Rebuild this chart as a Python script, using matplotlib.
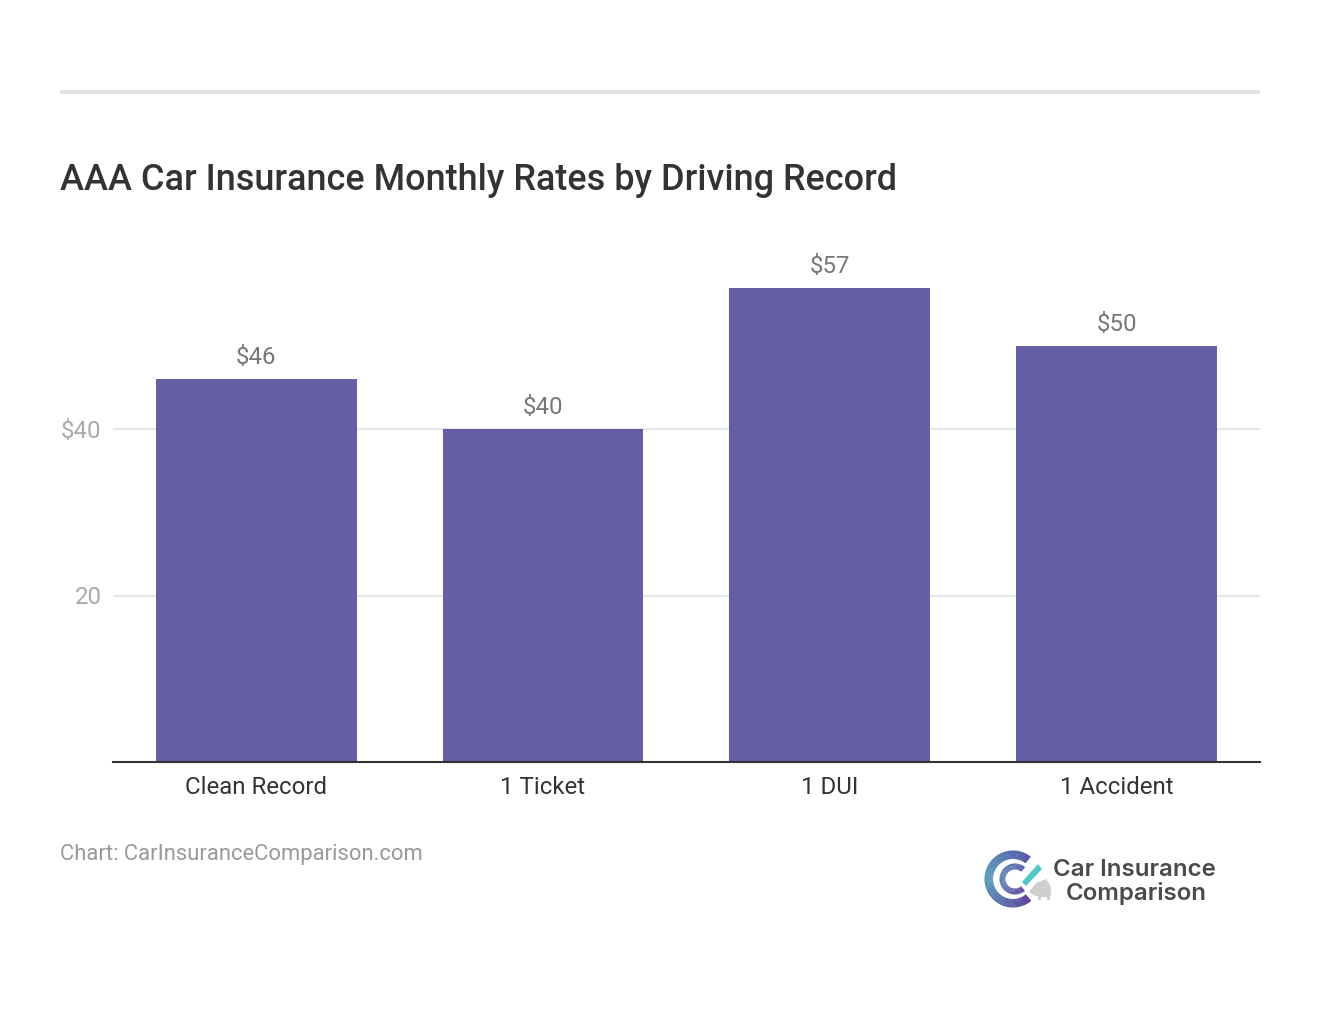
import matplotlib
matplotlib.use("Agg")
import matplotlib.pyplot as plt
from matplotlib.patches import Wedge, Rectangle, FancyBboxPatch, Polygon
from matplotlib.transforms import ScaledTranslation
import numpy as np

categories = ["Clean Record", "1 Ticket", "1 DUI", "1 Accident"]
rates = [46, 40, 57, 50]
value_labels = ["$46", "$40", "$57", "$50"]
y_ticks = [20, 40]
y_tick_labels = ["20", "$40"]
title = "AAA Car Insurance Monthly Rates by Driving Record"
source = "Chart: CarInsuranceComparison.com"

W, H = 1320, 1020
plt.rcParams['font.family'] = ['Roboto', 'DejaVu Sans']
fig = plt.figure(figsize=(W/100, H/100), dpi=100, facecolor='white')

def fx(x): return x / W
def fy(y): return 1 - y / H

# overlay in pixel coordinates for furniture
ov = fig.add_axes([0, 0, 1, 1], zorder=0)
ov.set_xlim(0, W); ov.set_ylim(H, 0); ov.axis('off')
ov.add_patch(Rectangle((60, 90.5), 1200, 4, color='#e2e2e2', lw=0))

ax = fig.add_axes([fx(112.8), fy(763), (1260-112.8)/W, 499.3/H], zorder=1)
ax.patch.set_alpha(0)
ax.set_xlim(-0.5, 3.5)
ax.set_ylim(0, 60)
ax.bar(range(4), rates, width=0.7, color='#645ea5', zorder=3)
ax.set_yticks(y_ticks)
ax.set_yticklabels(y_tick_labels, fontsize=17.3, color='#a9a9a9')
ax.set_xticks(range(4))
ax.set_xticklabels(categories, fontsize=17.3, color='#333333')
ax.tick_params(axis='y', length=0, pad=8.2)
ax.tick_params(axis='x', length=0, pad=9.5)
up = ScaledTranslation(0, 1.5/100, fig.dpi_scale_trans)
for lab in ax.get_yticklabels():
    lab.set_transform(lab.get_transform() + up)
ax.grid(axis='y', color='#e6e6e6', lw=1.5, zorder=1)
ax.set_axisbelow(True)
for s in ['top', 'left', 'right']:
    ax.spines[s].set_visible(False)
ax.spines['bottom'].set_color('#333333')
ax.spines['bottom'].set_linewidth(1.5)
ax.spines['bottom'].set_zorder(5)
for i, (v, l) in enumerate(zip(rates, value_labels)):
    ax.annotate(l, (i, v), xytext=(0, 11), textcoords='offset pixels',
                ha='center', va='bottom', fontsize=17.3, color='#777777')

fig.text(fx(60), fy(180), title, fontsize=25.88, fontweight='medium', color='#333333',
         ha='left', va='center')
fig.text(fx(60), fy(855), source, fontsize=15.8, color='#999999', ha='left', va='center')

# logo
def lerp(c1, c2, t):
    a = np.array(matplotlib.colors.to_rgb(c1)); b = np.array(matplotlib.colors.to_rgb(c2))
    return a + (b - a) * t

def arc(cx, cy, r, w, a0, a1, c1, c2, n=30):
    # ascending angles; y axis is inverted, so they run clockwise on screen
    edges = np.linspace(a0, a1, n + 1)
    for k in range(n):
        ov.add_patch(Wedge((cx, cy), r, edges[k], edges[k+1] + 0.6, width=w,
                           color=lerp(c1, c2, k / n), lw=0))

arc(1013, 880, 28.5, 8.5, 50, 180, '#5a3f9c', '#5b9dbb')
arc(1013, 880, 28.5, 8.5, 180, 308, '#5b9dbb', '#4f55a5')
arc(1015, 880, 15.5, 6, 50, 180, '#5a3f9c', '#5b86b5')
arc(1015, 880, 15.5, 6, 180, 310, '#5b86b5', '#4f55a5')
ov.add_patch(Polygon([(1022, 883), (1038, 865), (1042, 870), (1026, 887)], color='#4fc9c6', lw=0))
ov.add_patch(FancyBboxPatch((1037, 888), 13, 9, boxstyle='round,pad=1,rounding_size=4', color='#cfcfcf', lw=0))
ov.add_patch(Polygon([(1029, 893), (1036, 884), (1046, 880), (1051, 888), (1045, 898), (1035, 897)], color='#cfcfcf', lw=0))
ov.add_patch(Rectangle((1038, 897), 3, 4, color='#cfcfcf', lw=0))
ov.add_patch(Rectangle((1047, 897), 3, 4, color='#cfcfcf', lw=0))

ov.text(1134, 870, "Car Insurance", fontsize=17.3, family='Inter', fontweight='semibold',
        color='#4a4a4a', ha='center', va='center')
ov.text(1136.5, 894, "Comparison", fontsize=17.3, family='Inter', fontweight='semibold',
        color='#4a4a4a', ha='center', va='center')

fig.savefig('out.png', dpi=100, facecolor='white')
